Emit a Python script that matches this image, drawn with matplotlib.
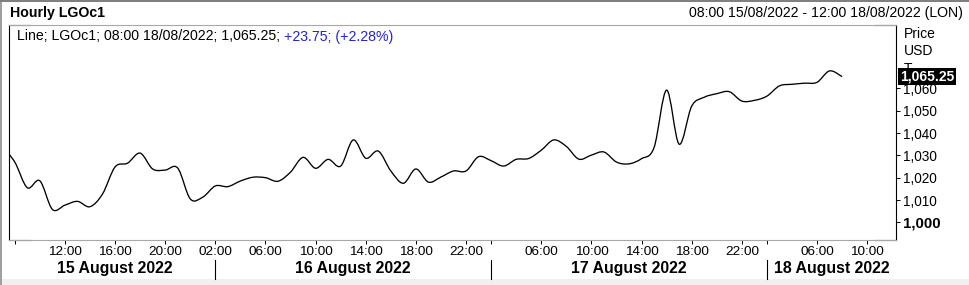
import numpy as np
import matplotlib
matplotlib.use("Agg")
import matplotlib.pyplot as plt
import matplotlib.transforms as mtransforms
from matplotlib.path import Path
from matplotlib.patches import PathPatch, Rectangle
from matplotlib.lines import Line2D

plt.rcParams['font.family'] = ['Liberation Sans', 'DejaVu Sans']

# ── Data ──────────────────────────────────────────────────────────────────────
days = ['15 August 2022', '16 August 2022', '17 August 2022', '18 August 2022']
session = ['%02d:00' % h for h in range(2, 24)]          # 02:00 .. 23:00 (LON)
day_hours = [session[5:], session, session, session[:7]]  # 07:00 15/08 .. 08:00 18/08

price = [
    1034.0, 1027.0, 1015.5, 1018.6, 1005.8, 1007.7, 1009.4, 1007.0, 1012.7,
    1024.8, 1026.5, 1031.0, 1023.9, 1023.4, 1024.3, 1010.5, 1011.3,
    1016.3, 1016.0, 1018.5, 1020.2, 1020.0, 1018.4, 1022.5, 1029.1, 1024.2,
    1028.2, 1025.2, 1036.9, 1028.7, 1031.9, 1023.0, 1017.5, 1023.9, 1018.0,
    1020.3, 1023.0, 1023.0, 1029.4,
    1027.6, 1025.2, 1028.2, 1028.6, 1032.3, 1036.9, 1034.0, 1028.3, 1030.1,
    1031.5, 1027.0, 1026.2, 1028.5, 1033.5, 1059.2, 1035.0, 1052.0, 1056.0,
    1057.6, 1058.5, 1054.3, 1054.6,
    1056.5, 1061.1, 1061.8, 1062.3, 1062.7, 1067.8, 1065.25,
]

# (day, hour, label) -- some ticks carry no label on the original
x_ticks = [
    (0, '08:00', ''), (0, '12:00', '12:00'), (0, '16:00', '16:00'), (0, '20:00', '20:00'),
    (1, '02:00', '02:00'), (1, '06:00', '06:00'), (1, '10:00', '10:00'),
    (1, '14:00', '14:00'), (1, '18:00', '18:00'), (1, '22:00', '22:00'),
    (2, '02:00', ''), (2, '06:00', '06:00'), (2, '10:00', '10:00'),
    (2, '14:00', '14:00'), (2, '18:00', '18:00'), (2, '22:00', '22:00'),
    (3, '02:00', ''), (3, '06:00', '06:00'), (3, '10:00', '10:00'),
]
y_ticks = [1000, 1010, 1020, 1030, 1040, 1050, 1060]

last_price = price[-1]
change = 23.75
change_pct = 2.28


def pos(day, hour):
    # trading-hour index, 08:00 15/08 = 0 (non-trading hours are skipped)
    return day * len(session) + session.index(hour) - 6


x = [pos(d, h) for d, hrs in enumerate(day_hours) for h in hrs]


def smooth_path(xs, ys):
    """Catmull-Rom curve through the points, as cubic bezier segments."""
    pts = np.column_stack([xs, ys]).astype(float)
    ext = np.vstack([pts[0], pts, pts[-1]])
    verts, codes = [pts[0]], [Path.MOVETO]
    for i in range(len(pts) - 1):
        p0, p1, p2, p3 = ext[i], ext[i + 1], ext[i + 2], ext[i + 3]
        verts += [p1 + (p2 - p0) / 6, p2 - (p3 - p1) / 6, p2]
        codes += [Path.CURVE4] * 3
    return Path(verts, codes)


# ── Figure ────────────────────────────────────────────────────────────────────
W, H = 969, 285
fig = plt.figure(figsize=(W / 100, H / 100), dpi=100, facecolor='white')

# outer frame / bottom band
fig.add_artist(Rectangle((0, 0), 1, 6 / H, transform=fig.transFigure,
                         fc='#f0f0f0', ec='none'))
fig.add_artist(Rectangle((0, 0), 2 / W, 1, transform=fig.transFigure,
                         fc='#a0a0a0', ec='none'))
fig.add_artist(Rectangle((0, 1 - 2 / H), 1, 2 / H, transform=fig.transFigure,
                         fc='#808080', ec='none'))

ax = fig.add_axes([9 / W, 1 - 240 / H, 887 / W, 215 / H])
ax.set_facecolor('white')

ax.add_patch(PathPatch(smooth_path(x, price), fc='none', ec='black', lw=0.95))

ax.set_xlim(-0.46, 70.3)
ax.set_ylim(992.1, 1088.35)

for side in ['top', 'bottom']:
    ax.spines[side].set_color('#a8a8a8')
    ax.spines[side].set_linewidth(0.8)
for side in ['left', 'right']:
    ax.spines[side].set_color('black')
    ax.spines[side].set_linewidth(0.8)

# short black bits at the frame corners
for xs, yy in [((0, 0.024), 0), ((0, 0.024), 1), ((0.976, 1), 0), ((0.976, 1), 1)]:
    ax.add_line(Line2D(xs, [yy, yy], transform=ax.transAxes, color='black',
                       lw=0.8, clip_on=False))

# y axis on the right
ax.yaxis.tick_right()
ax.set_yticks(y_ticks)
ax.set_yticklabels([f'{v:,}' for v in y_ticks])
ax.tick_params(axis='y', length=3, width=0.7, pad=2, labelsize=9.8, colors='black')
ax.get_yticklabels()[0].set_fontweight('bold')
ax.get_yticklabels()[0].set_fontsize(10.8)

# x axis: trading-hour ticks
ax.set_xticks([pos(d, h) for d, h, _ in x_ticks])
ax.set_xticklabels([lbl for _, _, lbl in x_ticks])
ax.tick_params(axis='x', length=3, width=0.7, pad=1.5, labelsize=9.7, colors='black')

# day separators and day names
day_start = [pos(d, session[0]) for d in range(1, len(days))]
bounds = [pos(0, '08:00')] + day_start + [ax.get_xlim()[1]]
blend = mtransforms.blended_transform_factory(ax.transData, fig.transFigure)
for xs in day_start:
    fig.add_artist(Line2D([xs, xs], [1 - 260 / H, 1 - 279 / H], transform=blend,
                          color='black', lw=0.8))
for i, name in enumerate(days):
    mid = (bounds[i] + bounds[i + 1]) / 2
    fig.text(mid, 1 - 268.5 / H, name, transform=blend, ha='center', va='center',
             fontsize=11.4, fontweight='bold')

# last value box
right = mtransforms.blended_transform_factory(ax.transAxes, ax.transData)
ax.text(1 + 4 / 887, last_price, f'{last_price:,.2f}', transform=right,
        ha='left', va='center', color='white', fontsize=10, fontweight='bold',
        bbox=dict(boxstyle='square,pad=0.12', fc='black', ec='none'), zorder=5,
        clip_on=False)

# header texts
fig.text(10 / W, 1 - 17.5 / H, 'Hourly LGOc1', ha='left', va='baseline',
         fontsize=10.2, fontweight='bold')
fig.text(963 / W, 1 - 17.5 / H, '08:00 15/08/2022 - 12:00 18/08/2022 (LON)',
         ha='right', va='baseline', fontsize=10.2)
fig.text(904 / W, 1 - 38 / H, 'Price', ha='left', va='baseline', fontsize=10)
fig.text(904 / W, 1 - 55 / H, 'USD', ha='left', va='baseline', fontsize=10)
fig.text(904 / W, 1 - 73 / H, 'T', ha='left', va='baseline', fontsize=10, zorder=1)

# legend line, black part then blue change figures
t1 = fig.text(17 / W, 1 - 40.5 / H,
              f'Line; LGOc1; 08:00 18/08/2022; {last_price:,.2f}; ',
              ha='left', va='baseline', fontsize=10.2)
ax.annotate(f'+{change:.2f}; (+{change_pct:.2f}%)', xy=(1, 0), xycoords=t1,
            ha='left', va='bottom', fontsize=10.2, color='#2323d8',
            annotation_clip=False)

fig.savefig('out.png', dpi=100)
